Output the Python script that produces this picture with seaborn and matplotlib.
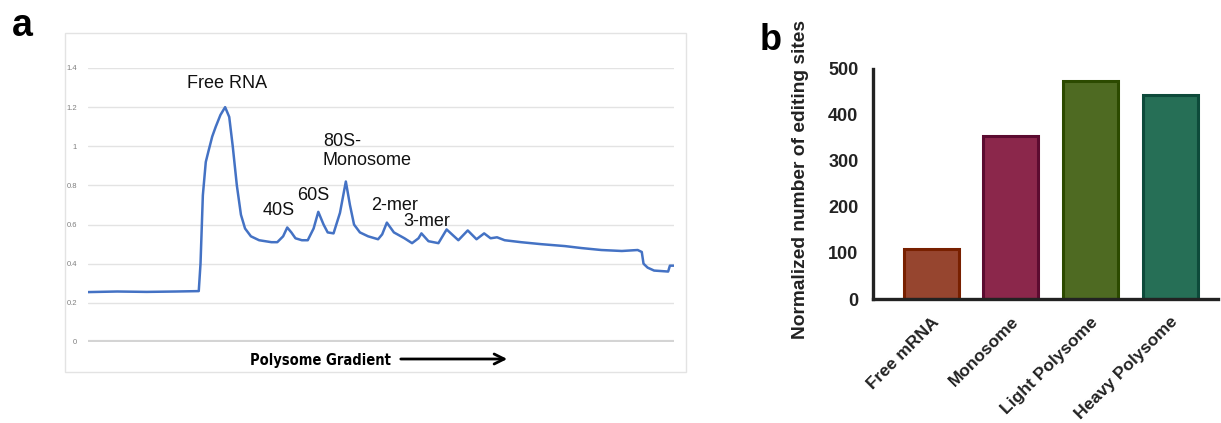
import matplotlib
matplotlib.use('Agg')
import matplotlib.pyplot as plt
import matplotlib.patches as mpatches
import seaborn as sns
import pandas as pd

# panel a: polysome profile (x = % along gradient)
gradient_pos = [0, 5, 10, 15, 18.9, 19.2, 19.6, 20.1, 20.6, 21.2, 21.8, 22.6, 23.4,
                24.1, 24.7, 25.4, 26.1, 26.8, 27.8, 29.2, 31.3, 32.3, 33.3, 34.0, 34.7,
                35.4, 36.5, 37.5, 38.5, 39.3, 40.2, 40.9, 41.9, 43.0, 44.0, 44.7, 45.4,
                46.4, 47.8, 49.5, 50.2, 51.0, 52.2, 54.0, 55.3, 56.4, 56.9, 58.1, 59.8,
                61.2, 63.2, 64.8, 66.3, 67.6, 68.7, 69.8, 71.1, 73.9, 77.3, 81.4, 84.2,
                87.6, 91.1, 93.8, 94.5, 94.8, 95.5, 96.6, 99.0, 99.3, 100]
absorbance = [0.255, 0.258, 0.256, 0.258, 0.26, 0.4, 0.75, 0.92, 0.98, 1.05, 1.1, 1.16, 1.2,
              1.15, 1.0, 0.8, 0.65, 0.58, 0.54, 0.52, 0.51, 0.51, 0.54, 0.585, 0.56,
              0.53, 0.52, 0.52, 0.58, 0.665, 0.6, 0.56, 0.555, 0.66, 0.82, 0.7, 0.6,
              0.56, 0.54, 0.525, 0.55, 0.61, 0.56, 0.53, 0.505, 0.53, 0.555, 0.515, 0.505,
              0.575, 0.52, 0.57, 0.525, 0.555, 0.53, 0.535, 0.52, 0.51, 0.50, 0.49, 0.48,
              0.47, 0.465, 0.47, 0.46, 0.40, 0.38, 0.365, 0.36, 0.39, 0.39]
peak_labels = ['Free RNA', '40S', '60S', '80S-\nMonosome', '2-mer', '3-mer']
peak_label_pos = [(23.8, 1.323), (32.6, 0.674), (38.4, 0.751), (40.1, 0.976), (52.3, 0.695), (57.8, 0.618)]
y_ticks_a = [0, 0.2, 0.4, 0.6, 0.8, 1, 1.2, 1.4]

# panel b: editing sites per fraction
fractions = ['Free mRNA', 'Monosome', 'Light Polysome', 'Heavy Polysome']
editing_sites = [109, 353, 473, 442]
fill_colours = ['#96452f', '#8b274b', '#4e6a22', '#266f56']
edge_colours = ['#782000', '#5c0b30', '#2c4a00', '#0d4a3a']

sns.set_style('white')
plt.rcParams['font.family'] = ['Liberation Sans', 'DejaVu Sans']

W, H = 1221, 423
fig = plt.figure(figsize=(W / 100, H / 100), dpi=100)

def fig_rect(x0, y0, x1, y1):
    # pixel box -> figure fraction
    return [x0 / W, 1 - y1 / H, (x1 - x0) / W, (y1 - y0) / H]

# light grey chart frame like the Excel export
fig.add_artist(mpatches.Rectangle((65 / W, 1 - 372 / H), (686 - 65) / W, (372 - 33) / H,
                                  transform=fig.transFigure, fill=False,
                                  edgecolor='#e3e3e3', linewidth=1.0))

ax_a = fig.add_axes(fig_rect(88, 68, 674, 342))
profile = pd.DataFrame({'pos': gradient_pos, 'abs': absorbance})
sns.lineplot(data=profile, x='pos', y='abs', ax=ax_a, color='#4472c4', linewidth=1.8)
ax_a.set_xlim(0, 100)
ax_a.set_ylim(0, 1.4)
ax_a.set_yticks(y_ticks_a)
ax_a.set_yticklabels([f'{v:g}' for v in y_ticks_a], fontsize=5.5, color='#7f7f7f')
ax_a.tick_params(axis='y', length=0, pad=8)
ax_a.set_xticks([])
ax_a.grid(axis='y', color='#e3e3e3', linewidth=1.0)
ax_a.axhline(0, color='#d4d4d4', linewidth=3, zorder=1)
for s in ax_a.spines.values():
    s.set_visible(False)
ax_a.set_xlabel('')
ax_a.set_ylabel('')

for lab, (px, py) in zip(peak_labels, peak_label_pos):
    ha = 'left' if '80S' in lab else 'center'
    ax_a.text(px, py, lab, fontsize=13, ha=ha, va='center', color='#111111', linespacing=1.15)

fig.text(320 / W, 1 - 360 / H, 'Polysome Gradient', fontsize=10.5, fontweight='bold',
         family=['Liberation Sans Narrow', 'DejaVu Sans'], fontstretch='condensed',
         ha='center', va='center', color='black')
fig.add_artist(mpatches.FancyArrowPatch((398 / W, 1 - 359 / H), (510 / W, 1 - 359 / H),
                                        transform=fig.transFigure, arrowstyle='->',
                                        mutation_scale=18, linewidth=2, color='black'))

fig.text(12 / W, 1 - 26 / H, 'a', fontsize=27, fontweight='bold', ha='left', va='center', color='black')
fig.text(760 / W, 1 - 40 / H, 'b', fontsize=26, fontweight='bold', ha='left', va='center', color='black')

# panel b
ax_b = fig.add_axes(fig_rect(873, 68.7, 1218, 299))
bars = pd.DataFrame({'fraction': fractions, 'sites': editing_sites})
sns.barplot(data=bars, x='fraction', y='sites', ax=ax_b, width=0.69, saturation=1,
            palette=fill_colours, hue='fraction', legend=False)
for patch, ec in zip(ax_b.patches, edge_colours):
    patch.set_edgecolor(ec)
    patch.set_linewidth(2.2)
ax_b.set_xlim(-0.73, 3.6)
ax_b.set_ylim(0, 500)
ax_b.set_yticks([0, 100, 200, 300, 400, 500])
for side in ['top', 'right']:
    ax_b.spines[side].set_visible(False)
for side in ['left', 'bottom']:
    ax_b.spines[side].set_linewidth(2.4)
    ax_b.spines[side].set_color('#222222')
ax_b.tick_params(axis='both', length=7, width=2.4, color='#222222', labelsize=13,
                 labelcolor='#222222', direction='out')
ax_b.tick_params(axis='x', pad=4)
for lab in ax_b.get_yticklabels():
    lab.set_fontweight('bold')
ax_b.set_xticks(range(len(fractions)))
ax_b.set_xticklabels(fractions, rotation=45, ha='right', rotation_mode='anchor',
                     fontsize=12.5, fontweight='bold')
ax_b.set_xlabel('')
ax_b.set_ylabel('Normalized number of editing sites', fontsize=13.8, fontweight='bold',
                color='#222222')
ax_b.yaxis.set_label_coords(-0.186, 0.52)

fig.savefig('out.png', dpi=100)
